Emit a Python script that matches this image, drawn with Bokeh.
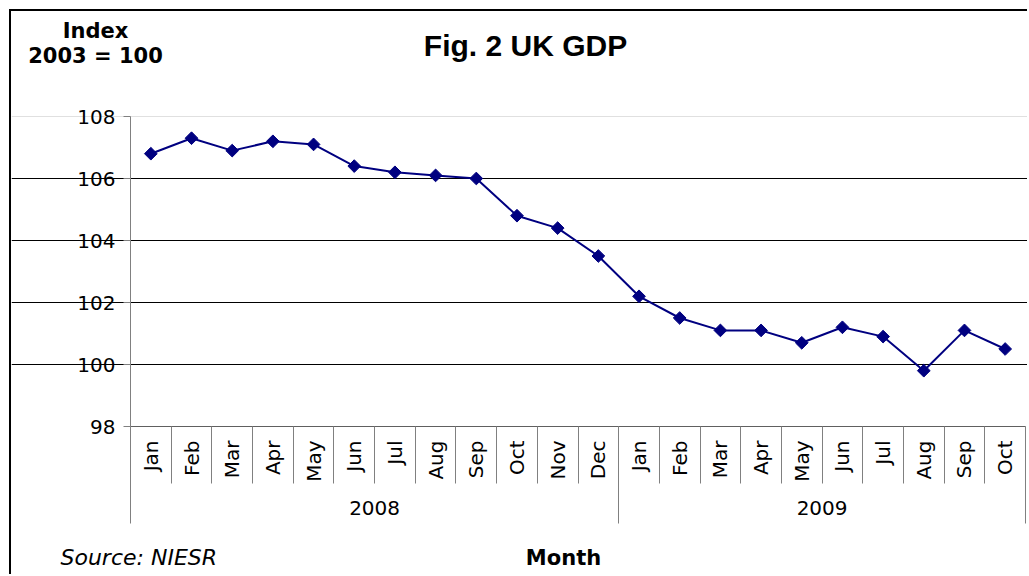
import numpy as np
from bokeh.plotting import figure
from bokeh.models import Range1d, LinearAxis, FixedTicker, Label, Grid
from bokeh.embed import file_html
from bokeh.resources import INLINE

# ---- data ----
months = ["Jan", "Feb", "Mar", "Apr", "May", "Jun", "Jul", "Aug", "Sep", "Oct", "Nov", "Dec",
          "Jan", "Feb", "Mar", "Apr", "May", "Jun", "Jul", "Aug", "Sep", "Oct"]
years = ["2008", "2009"]
year_counts = [12, 10]
gdp = [106.8, 107.3, 106.9, 107.2, 107.1, 106.4, 106.2, 106.1, 106.0, 104.8, 104.4, 103.5,
       102.2, 101.5, 101.1, 101.1, 100.7, 101.2, 100.9, 99.8, 101.1, 100.5]
y_ticks = [98, 100, 102, 104, 106, 108]

n = len(months)
x = list(range(n))

# ---- layout (pixels) ----
OFF = 11                 # canvas origin on the page (margin + border)
W, H = 1029 - OFF, 576 - OFF
PL, PR = 130 - OFF, 1025 - OFF      # plot area left/right (canvas px)
PB, PT = 426 - OFF, 116 - OFF       # plot area bottom/top (canvas px)
YEAR_AX = 483 - OFF                 # year axis line (canvas px)

xlo, xhi = -0.5, n - 0.5
ylo, yhi = y_ticks[0], y_ticks[-1]
xu = (PR - PL) / (xhi - xlo)
yu = (PB - PT) / (yhi - ylo)
x_range = Range1d(xlo - PL / xu, xhi + (W - PR) / xu)
y_range = Range1d(ylo - (H - PB) / yu, yhi + PT / yu)

p = figure(width=W, height=H, output_backend="svg", toolbar_location=None,
           x_range=x_range, y_range=y_range, min_border=0,
           x_axis_location=None, title_location=None)
p.styles = {"margin-left": "9px", "margin-top": "9px",
            "border-left": "2px solid black", "border-top": "2px solid black"}
p.outline_line_color = None
p.background_fill_color = "white"
p.border_fill_color = "white"

# y axis
p.yaxis.fixed_location = xlo
p.yaxis.bounds = (ylo, yhi)
p.yaxis.ticker = FixedTicker(ticks=y_ticks)
p.yaxis.axis_line_color = "#808080"
p.yaxis.major_tick_line_color = "#808080"
p.yaxis.major_tick_out = 7
p.yaxis.major_tick_in = 0
p.yaxis.minor_tick_line_color = None
p.yaxis.major_label_text_font = "DejaVu Sans"
p.yaxis.major_label_text_font_size = "20px"
p.yaxis.major_label_text_color = "black"
p.yaxis.major_label_standoff = 8

# grids
p.xgrid.grid_line_color = None
p.ygrid.ticker = FixedTicker(ticks=y_ticks[1:-1])
p.ygrid.bounds = (xlo, xhi)
p.ygrid.grid_line_color = "black"
p.ygrid.grid_line_width = 1
p.add_layout(Grid(dimension=1, ticker=FixedTicker(ticks=[y_ticks[-1]]), bounds=(xlo, xhi),
                  grid_line_color="#e0e0e0"))

# month axis
bounds = [i - 0.5 for i in range(n + 1)]
ax_m = LinearAxis(ticker=FixedTicker(ticks=x, minor_ticks=bounds), fixed_location=ylo,
                  bounds=(xlo, xhi),
                  major_label_overrides={i: m for i, m in enumerate(months)},
                  major_label_orientation=np.pi / 2,
                  major_tick_line_color=None, major_tick_out=0, major_tick_in=0,
                  minor_tick_out=YEAR_AX - PB, minor_tick_in=0, minor_tick_line_color="#808080",
                  axis_line_color="#606060", major_label_standoff=-43,
                  major_label_text_font="DejaVu Sans", major_label_text_font_size="20px",
                  major_label_text_color="black")
p.add_layout(ax_m, "below")

# year axis
starts = np.cumsum([0] + year_counts[:-1])
year_centers = [float(s + (c - 1) / 2) for s, c in zip(starts, year_counts)]
year_bounds = [float(s) - 0.5 for s in starts] + [n - 0.5]
ax_y = LinearAxis(ticker=FixedTicker(ticks=year_centers, minor_ticks=year_bounds),
                  fixed_location=ylo - (YEAR_AX - PB) / yu, bounds=(xlo, xhi),
                  major_label_overrides={c: yv for c, yv in zip(year_centers, years)},
                  axis_line_color=None, major_tick_line_color=None, major_tick_out=0, major_tick_in=0,
                  minor_tick_in=YEAR_AX - PB, minor_tick_out=40, minor_tick_line_color="#808080",
                  major_label_standoff=-23,
                  major_label_text_font="DejaVu Sans", major_label_text_font_size="20px",
                  major_label_text_color="black")
p.add_layout(ax_y, "below")

# data
p.line(x, gdp, line_color="#000080", line_width=2)
p.scatter(x, gdp, marker="square", angle=np.pi / 4, size=9,
          fill_color="#000080", line_color="#000080")

# texts: page pixel positions -> screen units (x from left, y from bottom)
def lab(px, py, text, size, style, align="center", font="DejaVu Sans"):
    p.add_layout(Label(x=px - OFF, y=H - (py - OFF), x_units="screen", y_units="screen", text=text,
                       text_font=font, text_font_style=style, text_font_size=size,
                       text_align=align, text_baseline="middle", text_color="black"))

lab(525, 45, "Fig. 2 UK GDP", "30px", "bold", font="Liberation Sans")
lab(95, 30, "Index", "21px", "bold")
lab(95, 55, "2003 = 100", "21px", "bold")
lab(60, 557, "Source: NIESR", "22px", "italic", align="left")
lab(563, 557, "Month", "21px", "bold")

open("out.html", "w").write(file_html(p, INLINE))
